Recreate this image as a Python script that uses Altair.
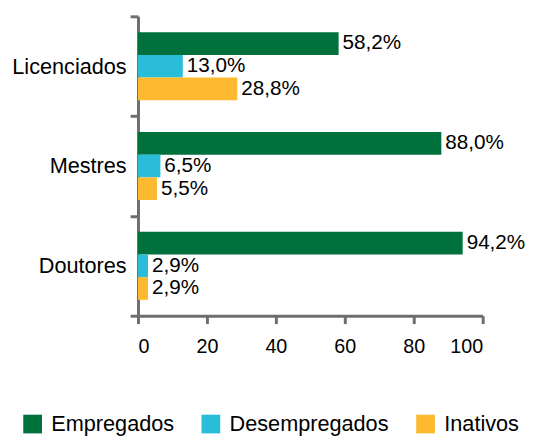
import altair as alt
import pandas as pd

categories = ["Licenciados", "Mestres", "Doutores"]
series = ["Empregados", "Desempregados", "Inativos"]
empregados = [58.2, 88.0, 94.2]
desempregados = [13.0, 6.5, 2.9]
inativos = [28.8, 5.5, 2.9]
colors = ["#00713D", "#29BDD9", "#FDBA31"]
x_ticks = [0, 20, 40, 60, 80, 100]

rows = []
for i, c in enumerate(categories):
    for s, vals in zip(series, [empregados, desempregados, inativos]):
        v = vals[i]
        rows.append({"cat": c, "serie": s, "valor": v,
                     "rotulo": f"{v:.1f}".replace(".", ",") + "%"})
df = pd.DataFrame(rows)

FONT = "Liberation Sans"
AXIS_COLOR = "#6d6e71"

base = alt.Chart(df).encode(
    y=alt.Y("cat:N", sort=categories,
            scale=alt.Scale(paddingInner=0, paddingOuter=0),
            axis=alt.Axis(title=None, tickBand="extent", labelFontSize=22,
                          labelFont=FONT, labelColor="black", labelPadding=4,
                          tickSize=8, tickWidth=3, tickColor=AXIS_COLOR,
                          domainColor=AXIS_COLOR, domainWidth=3)),
    yOffset=alt.YOffset("serie:N", sort=series,
                        scale=alt.Scale(paddingInner=0, paddingOuter=0.7)),
)

bars = base.mark_bar().encode(
    x=alt.X("valor:Q", scale=alt.Scale(domain=[0, 100], nice=False),
            axis=alt.Axis(title=None, values=x_ticks, grid=False,
                          labelFontSize=20, labelFont=FONT, labelColor="black",
                          labelPadding=13, tickSize=8, tickWidth=3,
                          tickColor=AXIS_COLOR, domainColor=AXIS_COLOR,
                          domainWidth=3)),
    color=alt.Color("serie:N", sort=series,
                    scale=alt.Scale(domain=series, range=colors),
                    legend=alt.Legend(title=None, orient="none", legendX=-118,
                                      legendY=403, direction="horizontal",
                                      symbolType="square", symbolSize=361,
                                      symbolStrokeWidth=0, labelFontSize=22,
                                      labelFont=FONT, labelColor="black",
                                      labelOffset=8, columnPadding=26,
                                      labelLimit=400, padding=0)),
)

text = base.mark_text(align="left", baseline="middle", dx=4, font=FONT,
                      fontSize=21, color="black").encode(
    x=alt.X("valor:Q"),
    text="rotulo:N",
)

chart = alt.layer(bars, text).properties(
    width=350, height=304,
    autosize=alt.AutoSizeParams(type="none"),
    padding={"left": 132, "top": 5, "right": 45, "bottom": 140},
).configure_view(stroke=None)

chart.save("out.html", embed_options={"renderer": "svg", "actions": False})
